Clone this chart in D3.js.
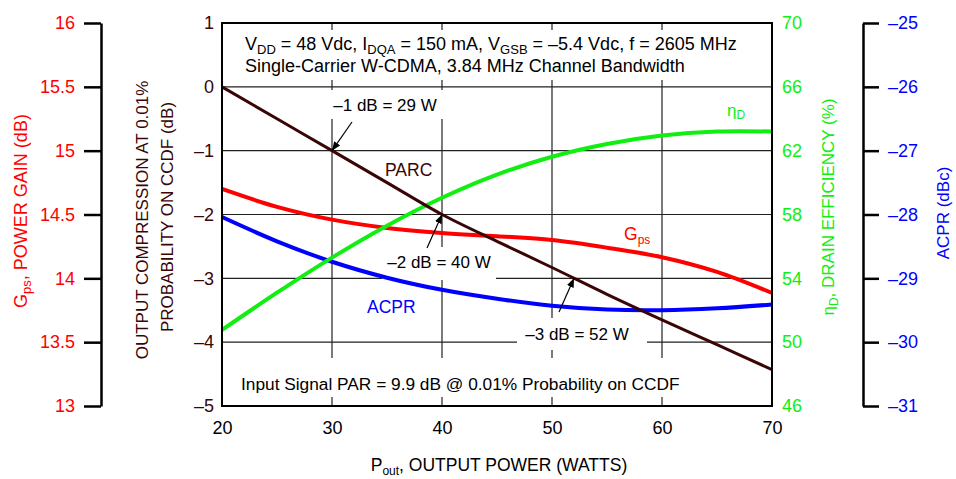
<!DOCTYPE html>
<html>
<head>
<meta charset="utf-8">
<script src="https://cdn.jsdelivr.net/npm/d3@7"></script>
<style>
  body { margin: 0; background: #fff; }
  svg text { font-family: "Liberation Sans", Arial, sans-serif; }
</style>
</head>
<body>
<svg id="chart"></svg>
<script>
// data
const powerW   = [20, 25, 30, 35, 40, 45, 50, 55, 60, 65, 70];
const parcDb   = [0, -0.5, -1, -1.5, -2, -2.42, -2.83, -3.25, -3.65, -4.04, -4.43];
const gpsDb    = [14.70, 14.56, 14.46, 14.395, 14.355, 14.33, 14.30, 14.24, 14.165, 14.05, 13.885];
const effPct   = [50.77, 53.1, 55.3, 57.3, 59.05, 60.5, 61.62, 62.42, 62.95, 63.2, 63.2];
const acprDbc  = [-28.04, -28.42, -28.74, -28.99, -29.18, -29.32, -29.43, -29.49, -29.50, -29.47, -29.41];

const xTicks    = [20, 30, 40, 50, 60, 70];
const parcTicks = [1, 0, -1, -2, -3, -4, -5];
const gpsTicks  = [16, 15.5, 15, 14.5, 14, 13.5, 13];
const effTicks  = [70, 66, 62, 58, 54, 50, 46];
const acprTicks = [-25, -26, -27, -28, -29, -30, -31];

// annotated points on PARC
const marks = [
  {p: 30, v: -1, text: "\u20131 dB = 29 W", lx: 385, ly: 111, ax: 352, ay: 122},
  {p: 40, v: -2, text: "\u20132 dB = 40 W", lx: 439, ly: 268, ax: 427, ay: 248},
  {p: 52, v: -3, text: "\u20133 dB = 52 W", lx: 577, ly: 340, ax: 559, ay: 312}
];

const width = 956, height = 479;
const RED = "#ff0000", GREEN = "#11ee11", BLUE = "#0000ff", BROWN = "#3a0505";

const svg = d3.select('#chart').attr('width', width).attr('height', height);

const x = d3.scaleLinear().domain([20, 70]).range([222, 772]);
const yParc = d3.scaleLinear().domain([-5, 1]).range([406, 23]);
const yGps  = d3.scaleLinear().domain([13, 16]).range([406, 23]);
const yEff  = d3.scaleLinear().domain([46, 70]).range([406, 23]);
const yAcpr = d3.scaleLinear().domain([-31, -25]).range([406, 23]);

const fmt = d => d < 0 ? "\u2013" + Math.abs(d) : String(d);

// grid
const grid = svg.append('g').attr('stroke', '#222').attr('stroke-width', 1.2);
grid.selectAll('line.v').data([30, 40, 50, 60]).enter().append('line')
  .attr('x1', d => x(d)).attr('x2', d => x(d)).attr('y1', 23).attr('y2', 406);
grid.selectAll('line.h').data([0, -1, -2, -3, -4]).enter().append('line')
  .attr('x1', 222).attr('x2', 772).attr('y1', d => yParc(d)).attr('y2', d => yParc(d));

// white boxes behind text
const boxes = [
  [224, 30, 546, 50],
  [326, 90, 120, 29],
  [382, 247, 114, 33],
  [517, 318, 130, 32],
  [224, 358, 546, 39]
];
svg.selectAll('rect.bg').data(boxes).enter().append('rect')
  .attr('x', d => d[0]).attr('y', d => d[1]).attr('width', d => d[2]).attr('height', d => d[3])
  .attr('fill', '#fff');

// curves
const series = [
  {vals: gpsDb, y: yGps, color: RED, w: 4},
  {vals: acprDbc, y: yAcpr, color: BLUE, w: 4},
  {vals: effPct, y: yEff, color: GREEN, w: 4},
  {vals: parcDb, y: yParc, color: BROWN, w: 3}
];
series.forEach(s => {
  const line = d3.line().x((d, i) => x(powerW[i])).y(d => s.y(d)).curve(d3.curveCatmullRom.alpha(0.5));
  svg.append('path').attr('d', line(s.vals))
    .attr('fill', 'none').attr('stroke', s.color).attr('stroke-width', s.w);
});

// arrows
svg.append('defs').append('marker').attr('id', 'arr')
  .attr('viewBox', '0 0 10 10').attr('refX', 10).attr('refY', 5)
  .attr('markerWidth', 9).attr('markerHeight', 9).attr('markerUnits', 'userSpaceOnUse')
  .attr('orient', 'auto')
  .append('path').attr('d', 'M0,1 L10,5 L0,9 Z').attr('fill', '#000');

marks.forEach(m => {
  svg.append('line').attr('x1', m.ax).attr('y1', m.ay)
    .attr('x2', x(m.p)).attr('y2', yParc(m.v))
    .attr('stroke', '#000').attr('stroke-width', 1.2).attr('marker-end', 'url(#arr)');
  svg.append('text').attr('x', m.lx).attr('y', m.ly).attr('text-anchor', 'middle')
    .attr('font-size', 17).attr('fill', '#000').text(m.text);
});

// frame
svg.append('rect').attr('x', 222).attr('y', 23).attr('width', 550).attr('height', 383)
  .attr('fill', 'none').attr('stroke', '#000').attr('stroke-width', 2);

// axes
function styleAxis(g, color) {
  g.selectAll('text').attr('fill', color).attr('font-size', 18)
    .style('font-family', '"Liberation Sans", Arial, sans-serif');
  g.selectAll('line').attr('stroke', '#000').attr('stroke-width', 2.5);
  g.select('.domain').attr('stroke', '#000').attr('stroke-width', 2.5);
}

const gGps = svg.append('g').attr('transform', 'translate(101,0)')
  .call(d3.axisLeft(yGps).tickValues(gpsTicks).tickFormat(fmt).tickSize(17).tickSizeOuter(0).tickPadding(9));
styleAxis(gGps, RED);

const gParc = svg.append('g').attr('transform', 'translate(222,0)')
  .call(d3.axisLeft(yParc).tickValues(parcTicks).tickFormat(fmt).tickSize(0).tickPadding(8));
styleAxis(gParc, BROWN);
gParc.select('.domain').remove();

const gEff = svg.append('g').attr('transform', 'translate(772,0)')
  .call(d3.axisRight(yEff).tickValues(effTicks).tickSize(0).tickPadding(10));
styleAxis(gEff, GREEN);
gEff.select('.domain').remove();

const gAcpr = svg.append('g').attr('transform', 'translate(863,0)')
  .call(d3.axisRight(yAcpr).tickValues(acprTicks).tickFormat(fmt).tickSize(16).tickSizeOuter(0).tickPadding(9));
styleAxis(gAcpr, BLUE);

const gX = svg.append('g').attr('transform', 'translate(0,406)')
  .call(d3.axisBottom(x).tickValues(xTicks).tickSize(0).tickPadding(15));
styleAxis(gX, '#000');
gX.select('.domain').remove();

// axis titles
function vTitle(cx, cy, color, size) {
  return svg.append('text').attr('transform', `translate(${cx},${cy}) rotate(-90)`)
    .attr('text-anchor', 'middle').attr('font-size', size || 17).attr('fill', color);
}
const tG = vTitle(27, 211, RED, 18);
tG.append('tspan').text('G');
tG.append('tspan').attr('font-size', 13).attr('dy', 4).text('ps');
tG.append('tspan').attr('dy', -4).text(', POWER GAIN (dB)');

vTitle(148, 220, BROWN).text('OUTPUT COMPRESSION AT 0.01%');
vTitle(173, 217, BROWN).text('PROBABILITY ON CCDF (dB)');

const tE = vTitle(834, 207, GREEN);
tE.append('tspan').text('\u03b7');
tE.append('tspan').attr('font-size', 12).attr('dy', 4).text('D');
tE.append('tspan').attr('dy', -4).text(', DRAIN EFFICIENCY (%)');

vTitle(949, 213, BLUE).text('ACPR (dBc)');

const tX = svg.append('text').attr('x', 499).attr('y', 471).attr('text-anchor', 'middle')
  .attr('font-size', 17.5).attr('fill', '#000');
tX.append('tspan').text('P');
tX.append('tspan').attr('font-size', 12).attr('dy', 4).text('out');
tX.append('tspan').attr('dy', -4).text(', OUTPUT POWER (WATTS)');

// text inside plot
const t1 = svg.append('text').attr('x', 245).attr('y', 50).attr('font-size', 18).attr('fill', '#000');
t1.append('tspan').text('V');
t1.append('tspan').attr('font-size', 13).attr('dy', 4).text('DD');
t1.append('tspan').attr('dy', -4).text(' = 48 Vdc, I');
t1.append('tspan').attr('font-size', 13).attr('dy', 4).text('DQA');
t1.append('tspan').attr('dy', -4).text(' = 150 mA, V');
t1.append('tspan').attr('font-size', 13).attr('dy', 4).text('GSB');
t1.append('tspan').attr('dy', -4).text(' = \u20135.4 Vdc,  f = 2605 MHz');
svg.append('text').attr('x', 245).attr('y', 72).attr('font-size', 18).attr('fill', '#000')
  .text('Single-Carrier W-CDMA, 3.84 MHz Channel Bandwidth');

svg.append('text').attr('x', 241).attr('y', 390).attr('font-size', 17.3).attr('fill', '#000')
  .text('Input Signal PAR = 9.9 dB @ 0.01% Probability on CCDF');

svg.append('text').attr('x', 385).attr('y', 176).attr('font-size', 17.5).attr('fill', BROWN).text('PARC');
svg.append('text').attr('x', 367).attr('y', 313).attr('font-size', 17.5).attr('fill', BLUE).text('ACPR');
const tGps = svg.append('text').attr('x', 624).attr('y', 240).attr('font-size', 17.5).attr('fill', RED);
tGps.append('tspan').text('G');
tGps.append('tspan').attr('font-size', 12).attr('dy', 4).text('ps');
const tEta = svg.append('text').attr('x', 727).attr('y', 116).attr('font-size', 17).attr('fill', GREEN);
tEta.append('tspan').text('\u03b7');
tEta.append('tspan').attr('font-size', 12).attr('dy', 3).text('D');
</script>
</body>
</html>
